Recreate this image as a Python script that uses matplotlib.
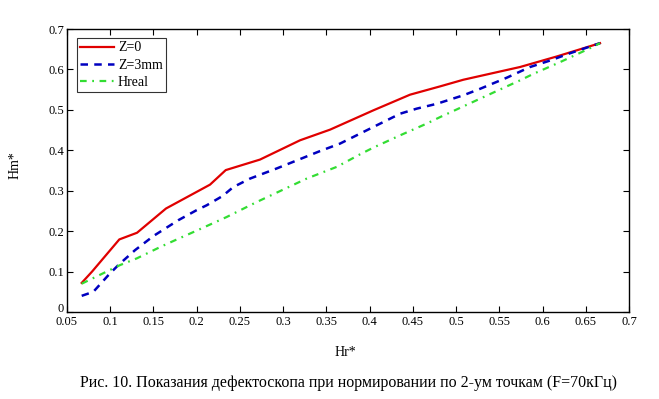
import numpy as np
import matplotlib.pyplot as plt
import matplotlib.transforms as mtransforms

plt.rcParams['font.family'] = ['Liberation Serif', 'DejaVu Serif']

# Z=0
hr_z0 = [0.067, 0.079, 0.100, 0.1105, 0.131, 0.1645, 0.2154, 0.2336, 0.2732, 0.3195,
         0.3542, 0.4043, 0.4467, 0.4814, 0.5084, 0.574, 0.6164, 0.6665]
hm_z0 = [0.072, 0.100, 0.153, 0.1795, 0.196, 0.256, 0.315, 0.351, 0.377, 0.4247,
         0.451, 0.4988, 0.5375, 0.558, 0.5745, 0.606, 0.632, 0.665]

# Z=3mm
hr_z3 = [0.067, 0.0805, 0.0978, 0.1093, 0.1287, 0.150, 0.1787, 0.200, 0.2116, 0.230,
         0.2423, 0.2617, 0.2925, 0.3426, 0.3657, 0.4043, 0.4353, 0.4545, 0.4777,
         0.5084, 0.5277, 0.5586, 0.5856, 0.6087, 0.6318, 0.6665]
hm_z3 = [0.040, 0.050, 0.091, 0.116, 0.153, 0.188, 0.227, 0.252, 0.264, 0.287,
         0.309, 0.330, 0.355, 0.398, 0.4165, 0.4576, 0.4905, 0.503, 0.515,
         0.536, 0.552, 0.5795, 0.606, 0.622, 0.640, 0.665]

# Hreal
hr_real = [0.067, 0.0997, 0.1113, 0.1306, 0.160, 0.1755, 0.2038, 0.2347, 0.2694, 0.3272,
           0.362, 0.3889, 0.4043, 0.4353, 0.466, 0.4814, 0.5277, 0.5586, 0.574,
           0.5894, 0.6202, 0.651, 0.6665]
hm_real = [0.070, 0.104, 0.116, 0.1325, 0.163, 0.178, 0.205, 0.235, 0.272, 0.330,
           0.359, 0.390, 0.4066, 0.437, 0.466, 0.482, 0.5276, 0.558, 0.573,
           0.589, 0.618, 0.6486, 0.665]

xticks = [0.05, 0.1, 0.15, 0.2, 0.25, 0.3, 0.35, 0.4, 0.45, 0.5, 0.55, 0.6, 0.65, 0.7]
yticks = [0, 0.1, 0.2, 0.3, 0.4, 0.5, 0.6, 0.7]

fig = plt.figure(figsize=(6.59, 3.99), dpi=100)
ax = fig.add_axes([67 / 659, 1 - 312 / 399, (629 - 67) / 659, (312 - 29) / 399])

ax.plot(hr_z0, hm_z0, color='#e00000', lw=1.6, label='Z=0')
ax.plot(hr_z3, hm_z3, color='#0000c0', lw=1.8, dashes=(3, 2.5), label='Z=3mm')
ax.plot(hr_real, hm_real, color='#33dd33', lw=1.6, dashes=(3, 2.5, 0.8, 2.5), label='Hreal')

ax.set_xlim(0.05, 0.7)
ax.set_ylim(0, 0.7)
ax.set_xticks(xticks)
ax.set_xticklabels(['%g' % v for v in xticks])
ax.set_yticks(yticks)
ax.set_yticklabels(['%g' % v for v in yticks])
ax.tick_params(direction='in', top=True, right=True, length=4, width=0.8,
               labelsize=9, pad=2, color='black')
ax.tick_params(axis='x', pad=3)
for s in ax.spines.values():
    s.set_linewidth(1.0)

# lift the y "0" label so it sits just above "0.05"
zero_lbl = ax.get_yticklabels()[0]
zero_lbl.set_transform(zero_lbl.get_transform() +
                       mtransforms.ScaledTranslation(0, 5 / 100, fig.dpi_scale_trans))

leg = ax.legend(loc='upper left', bbox_to_anchor=(10 / 562, 1 - 9 / 283), fontsize=10,
                frameon=True, fancybox=False, edgecolor='black', handlelength=2.4,
                handletextpad=0.3, borderpad=0.25, labelspacing=0.3, borderaxespad=0)
leg.get_frame().set_linewidth(0.8)

fig.text(15 / 659, 1 - 165 / 399, 'Hm*', rotation=90, ha='center', va='center', fontsize=10)
fig.text(345 / 659, 1 - 352 / 399, 'Hr*', ha='center', va='center', fontsize=10)
fig.text(349 / 659, 1 - 383 / 399,
         'Рис. 10. Показания дефектоскопа при нормировании по 2-ум точкам (F=70кГц)',
         ha='center', va='center', fontsize=11.5)

fig.savefig('out.png', dpi=100)
